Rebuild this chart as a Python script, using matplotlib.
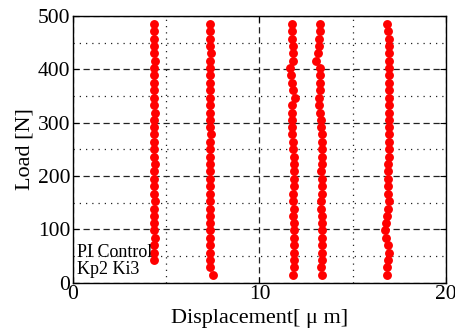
"""
Load vs displacement, PI control (Kp2 Ki3).
"""

import matplotlib
matplotlib.use("Agg")
import matplotlib.pyplot as plt
from matplotlib.ticker import MultipleLocator

# ----------------------------------------------------
# Data
# ----------------------------------------------------

load = [15, 29, 43, 56, 70, 84, 98, 112, 126, 139, 153, 167, 181, 195,
        209, 223, 236, 250, 264, 278, 292, 306, 319, 333, 347, 361, 375,
        389, 402, 416, 430, 444, 458, 472, 485]

disp_1 = [4.37, 4.36, 4.37, 4.38, 4.37, 4.36, 4.37, 4.37, 4.38, 4.37,
          4.36, 4.37, 4.37, 4.38, 4.37, 4.36, 4.37, 4.37, 4.36, 4.37,
          4.38, 4.37, 4.36, 4.37, 4.37, 4.36, 4.37, 4.38, 4.37, 4.36,
          4.37, 4.37, 4.37]

disp_2 = [7.51, 7.34, 7.36, 7.37, 7.36, 7.35, 7.36, 7.37, 7.36, 7.36,
          7.35, 7.36, 7.37, 7.36, 7.36, 7.35, 7.36, 7.36, 7.37, 7.38,
          7.37, 7.36, 7.36, 7.35, 7.36, 7.37, 7.36, 7.35, 7.36, 7.37,
          7.38, 7.37, 7.36, 7.37, 7.36]

disp_3 = [11.80, 11.84, 11.84, 11.88, 11.84, 11.84, 11.84, 11.84, 11.80,
          11.84, 11.80, 11.80, 11.84, 11.84, 11.88, 11.86, 11.84, 11.82,
          11.79, 11.74, 11.75, 11.77, 11.75, 11.77, 11.90, 11.79, 11.75,
          11.68, 11.66, 11.82, 11.80, 11.78, 11.77, 11.75, 11.75]

disp_4 = [13.37, 13.31, 13.33, 13.33, 13.37, 13.37, 13.33, 13.33, 13.37,
          13.31, 13.28, 13.33, 13.37, 13.33, 13.31, 13.33, 13.37, 13.37,
          13.37, 13.35, 13.31, 13.28, 13.25, 13.22, 13.22, 13.24, 13.24,
          13.24, 13.24, 13.03, 13.16, 13.19, 13.21, 13.24, 13.23]

disp_5 = [16.84, 16.84, 16.92, 16.95, 16.90, 16.78, 16.74, 16.80, 16.86,
          16.90, 16.95, 16.92, 16.90, 16.88, 16.90, 16.92, 16.93, 16.94,
          16.95, 16.95, 16.96, 16.96, 16.96, 16.96, 16.96, 16.96, 16.96,
          16.97, 16.97, 16.96, 16.96, 16.95, 16.93, 16.90, 16.83]

series = [
    (disp_1, load[2:]),
    (disp_2, load),
    (disp_3, load),
    (disp_4, load),
    (disp_5, load),
]

# ----------------------------------------------------
# Figure
# ----------------------------------------------------

plt.rcParams["font.family"] = ["Liberation Serif", "DejaVu Serif"]

fig = plt.figure(figsize=(4.55, 3.36), dpi=100)
ax = fig.add_axes([0.1604, 0.1586, 0.8196, 0.7934])

for x, y in series:
    ax.plot(x, y, "o", color="#ff0000", markersize=6.4,
            markeredgewidth=0, zorder=3)

ax.set_xlim(0, 20)
ax.set_ylim(0, 500)

ax.xaxis.set_major_locator(MultipleLocator(10))
ax.xaxis.set_minor_locator(MultipleLocator(5))
ax.yaxis.set_major_locator(MultipleLocator(100))
ax.yaxis.set_minor_locator(MultipleLocator(50))

ax.grid(which="major", color="#222222", linestyle=(0, (5, 3)),
        linewidth=0.9)
ax.grid(which="minor", color="#222222", linestyle=(0, (1, 4)),
        linewidth=0.9)
ax.set_axisbelow(True)

ax.tick_params(which="major", direction="in", length=4, width=0.8,
               labelsize=15.5, top=True, right=True, pad=2)
ax.tick_params(which="minor", direction="in", length=0)

for spine in ax.spines.values():
    spine.set_linewidth(1.0)
    spine.set_color("black")

ax.set_xlabel("Displacement[ μ m]", fontsize=16, labelpad=3)
ax.set_ylabel("Load [N]", fontsize=16, labelpad=2)

ax.text(0.2, 8, "PI Control\nKp2 Ki3", fontsize=13,
        linespacing=1.0, va="bottom", ha="left", zorder=4)

fig.savefig("out.png", dpi=100)
plt.close(fig)
